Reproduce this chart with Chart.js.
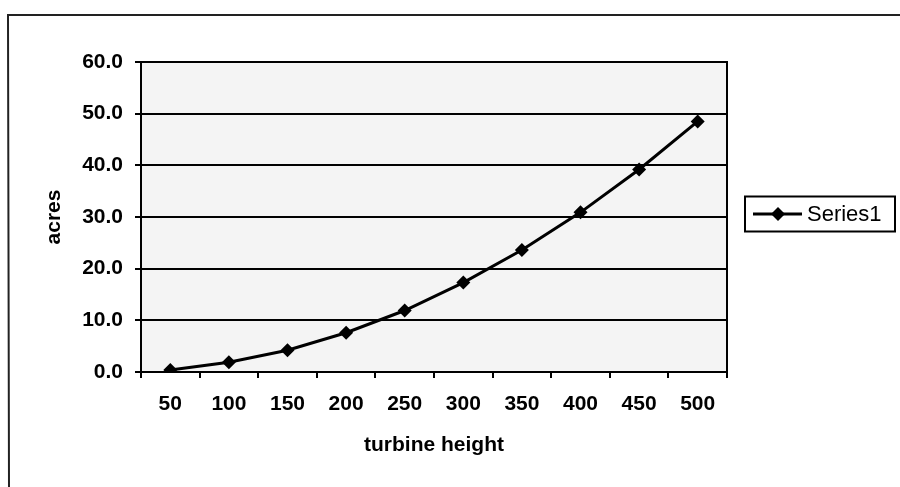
<!DOCTYPE html>
<html>
<head>
<meta charset="utf-8">
<script src="https://cdn.jsdelivr.net/npm/chart.js@4/dist/chart.umd.min.js"></script>
<style>
  html, body { margin: 0; padding: 0; background: #fff; }
  #wrap { width: 900px; height: 487px; }
</style>
</head>
<body>
<div id="wrap"><canvas id="c" width="900" height="487"></canvas></div>
<script>
// ---- data ----
const categories = ['50', '100', '150', '200', '250', '300', '350', '400', '450', '500'];
const acres = [0.4, 1.9, 4.2, 7.6, 11.9, 17.3, 23.6, 30.9, 39.2, 48.5];
const seriesName = 'Series1';
const xTitle = 'turbine height';
const yTitle = 'acres';
const yMin = 0;
const yMax = 60;
const yStep = 10;

const TICK_FONT = { family: '"Liberation Sans", Arial, sans-serif', size: 21, weight: 'bold' };
const TITLE_FONT = { family: '"Liberation Sans", Arial, sans-serif', size: 21, weight: 'bold' };
const LEGEND_FONT = '22px "Liberation Sans", Arial, sans-serif';

const framePlugin = {
  id: 'frame',
  beforeDraw(chart) {
    const ctx = chart.ctx;
    const a = chart.chartArea;
    ctx.save();
    ctx.fillStyle = '#ffffff';
    ctx.fillRect(0, 0, chart.width, chart.height);
    // outer chart border (top and left visible in the scan)
    ctx.strokeStyle = '#222';
    ctx.lineWidth = 2;
    ctx.beginPath();
    ctx.moveTo(chart.width, 15);
    ctx.lineTo(8, 15);
    ctx.lineTo(9, chart.height);
    ctx.stroke();
    // plot area fill
    ctx.fillStyle = '#f4f4f4';
    ctx.fillRect(a.left, a.top, a.right - a.left, a.bottom - a.top);
    ctx.restore();
  },
  beforeDatasetsDraw(chart) {
    const ctx = chart.ctx;
    const a = chart.chartArea;
    ctx.save();
    ctx.strokeStyle = '#000';
    ctx.lineWidth = 2;
    ctx.strokeRect(a.left, a.top, a.right - a.left, a.bottom - a.top);
    ctx.restore();
  },
  afterDraw(chart) {
    // legend box to the right of the plot area
    const ctx = chart.ctx;
    const a = chart.chartArea;
    const ds = chart.data.datasets[0];
    const bx = a.right + 18, bw = 150, bh = 35;
    const cy = (a.top + a.bottom) / 2 - 3;
    const by = cy - bh / 2;
    ctx.save();
    ctx.fillStyle = '#fff';
    ctx.fillRect(bx, by, bw, bh);
    ctx.strokeStyle = '#000';
    ctx.lineWidth = 2;
    ctx.strokeRect(bx, by, bw, bh);
    // line sample
    ctx.strokeStyle = ds.borderColor;
    ctx.lineWidth = ds.borderWidth;
    ctx.beginPath();
    ctx.moveTo(bx + 8, cy);
    ctx.lineTo(bx + 57, cy);
    ctx.stroke();
    // diamond marker sample
    const mx = bx + 33, r = ds.pointRadius;
    ctx.fillStyle = ds.pointBackgroundColor;
    ctx.beginPath();
    ctx.moveTo(mx, cy - r);
    ctx.lineTo(mx + r, cy);
    ctx.lineTo(mx, cy + r);
    ctx.lineTo(mx - r, cy);
    ctx.closePath();
    ctx.fill();
    // label
    ctx.fillStyle = '#000';
    ctx.font = LEGEND_FONT;
    ctx.textBaseline = 'middle';
    ctx.textAlign = 'left';
    ctx.fillText(ds.label, bx + 62, cy + 1);
    ctx.restore();
  }
};

new Chart(document.getElementById('c'), {
  type: 'line',
  data: {
    labels: categories,
    datasets: [{
      label: seriesName,
      data: acres,
      borderColor: '#000',
      borderWidth: 3,
      pointStyle: 'rectRot',
      pointRadius: 7,
      pointBackgroundColor: '#000',
      pointBorderColor: '#000',
      pointBorderWidth: 0,
      tension: 0,
      fill: false
    }]
  },
  options: {
    responsive: false,
    animation: false,
    devicePixelRatio: 1,
    layout: { padding: { top: 62, right: 173, bottom: 0, left: 0 } },
    plugins: {
      legend: { display: false },
      tooltip: { enabled: false },
      title: { display: false }
    },
    scales: {
      x: {
        type: 'category',
        offset: true,
        grid: {
          offset: true,
          drawOnChartArea: false,
          drawTicks: true,
          tickLength: 6,
          color: '#000',
          lineWidth: 2
        },
        border: { display: true, color: '#000', width: 2 },
        ticks: { color: '#000', font: TICK_FONT, padding: 14, maxRotation: 0, autoSkip: false },
        title: { display: true, text: xTitle, color: '#000', font: TITLE_FONT, padding: { top: 0, bottom: 29 } },
        afterFit(scale) { scale.height = 115; }
      },
      y: {
        min: yMin,
        max: yMax,
        grid: {
          drawTicks: true,
          tickLength: 6,
          color: '#000',
          lineWidth: 2
        },
        border: { display: true, color: '#000', width: 2 },
        ticks: {
          stepSize: yStep,
          color: '#000',
          font: TICK_FONT,
          padding: 12,
          callback: (v) => Number(v).toFixed(1)
        },
        title: { display: true, text: yTitle, color: '#000', font: TITLE_FONT, padding: { top: 42, bottom: 0 } },
        afterFit(scale) { scale.width = 141; }
      }
    }
  },
  plugins: [framePlugin]
});
</script>
</body>
</html>
